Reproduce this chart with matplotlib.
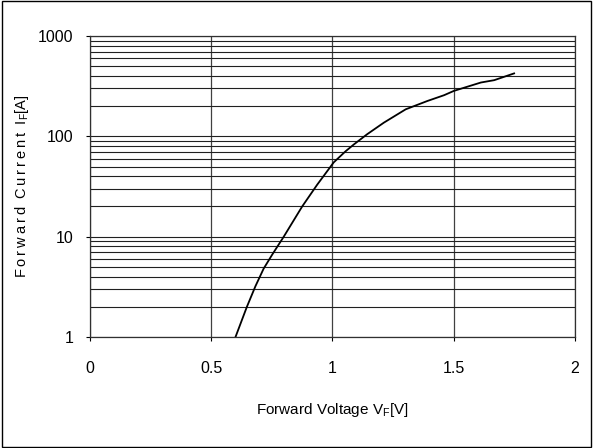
import numpy as np
import matplotlib.pyplot as plt
from matplotlib.patches import Rectangle

plt.rcParams['font.family'] = ['Liberation Sans', 'DejaVu Sans']
plt.rcParams['mathtext.fontset'] = 'custom'
plt.rcParams['mathtext.rm'] = 'Liberation Sans'

# forward characteristic
vf = [0.60, 0.647, 0.682, 0.716, 0.751, 0.799, 0.875, 0.937, 1.005, 1.054,
      1.088, 1.143, 1.212, 1.302, 1.391, 1.46, 1.501, 1.612, 1.667, 1.749]
i_f = [1.0, 2.0, 3.2, 4.8, 6.6, 10, 20, 33, 55, 71,
       83, 105, 137, 186, 225, 257, 284, 344, 363, 424]

x_ticks = [0, 0.5, 1, 1.5, 2]
x_labels = ['0', '0.5', '1', '1.5', '2']
y_ticks = [1, 10, 100, 1000]
y_labels = ['1', '10', '100', '1000']

fig = plt.figure(figsize=(5.93, 4.48), dpi=100)
ax = fig.add_axes([0.1518, 0.2478, 0.8178, 0.6718])

ax.plot(vf, i_f, color='black', lw=1.3)
ax.set_yscale('log')
ax.set_xlim(0, 2)
ax.set_ylim(1, 1000)
ax.set_xticks(x_ticks)
ax.set_xticklabels(x_labels)
ax.set_yticks(y_ticks)
ax.set_yticklabels(y_labels)
ax.tick_params(axis='x', which='major', labelsize=11.5, length=3, width=0.8, pad=14)
ax.tick_params(axis='y', which='major', labelsize=11.5, length=3, width=0.8, pad=9)
ax.tick_params(axis='y', which='minor', length=0)
ax.yaxis.set_minor_formatter(plt.NullFormatter())

ax.grid(True, which='major', axis='x', color='#404040', lw=0.9)
ax.grid(True, which='both', axis='y', color='#202020', lw=0.8)
for s in ax.spines.values():
    s.set_color('#303030')
    s.set_linewidth(0.9)

ax.set_xlabel(r'Forward Voltage V$_\mathregular{F}$[V]', fontsize=11, labelpad=18)
ylab = '\u2009'.join('Forward') + '  ' + '\u2009'.join('Current') + '  I$_\\mathregular{F}$[A]'
ax.set_ylabel(ylab, fontsize=10.5, labelpad=5)

# outer frame around the whole picture
fig.patches.append(Rectangle((0.003, 0.003), 0.994, 0.994, transform=fig.transFigure,
                             fill=False, edgecolor='black', lw=1.0))

plt.savefig('out.png', dpi=100)
